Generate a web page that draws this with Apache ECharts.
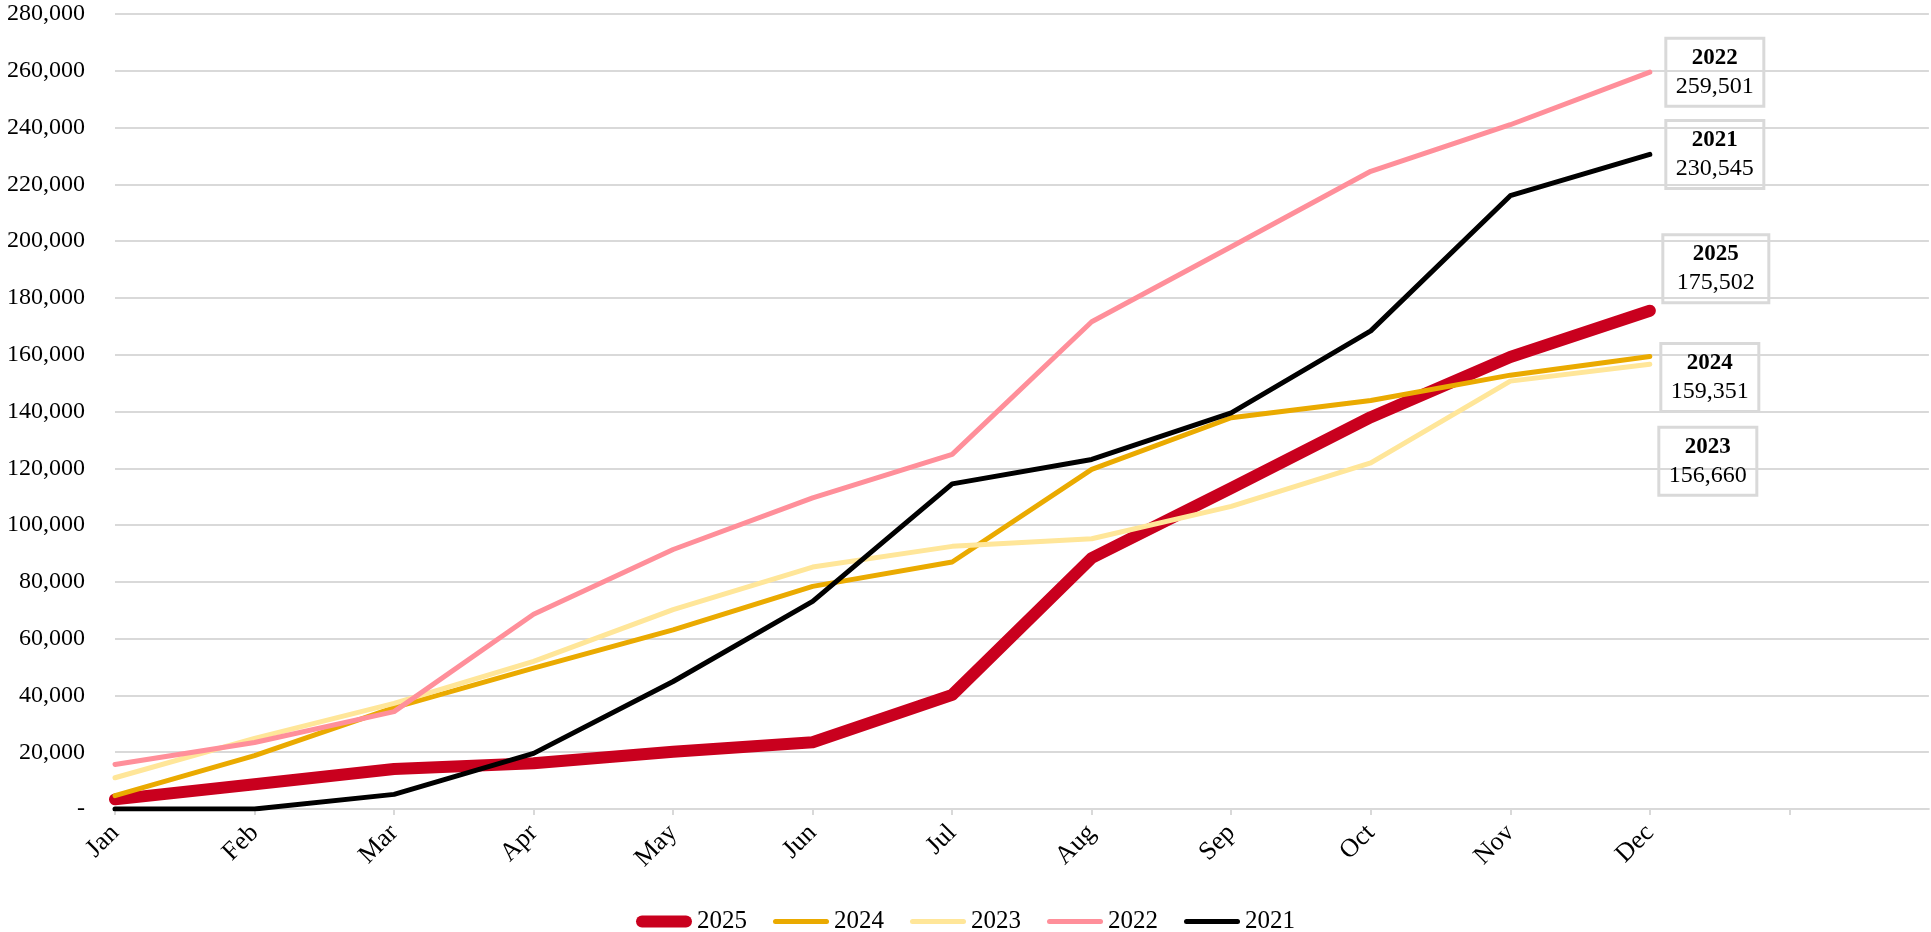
<!DOCTYPE html>
<html><head><meta charset="utf-8">
<script src="https://cdn.jsdelivr.net/npm/echarts@6/dist/echarts.min.js"></script>
<style>html,body{margin:0;padding:0;background:#fff}#c{width:1931px;height:932px}</style>
</head><body><div id="c"></div>
<script>
// ---- data ----
const months = ['Jan','Feb','Mar','Apr','May','Jun','Jul','Aug','Sep','Oct','Nov','Dec','',''];
const seriesNames = ['2025','2024','2023','2022','2021'];
const v2025 = [3400, 8700, 14100, 16100, 20200, 23500, 40200, 88400, 113000, 138000, 159200, 175502];
const v2024 = [4700, 18800, 35700, 49600, 63100, 78400, 87000, 119600, 137800, 143900, 152800, 159351];
const v2023 = [11000, 24900, 37200, 52000, 70200, 85200, 92500, 95200, 106600, 121900, 150700, 156660];
const v2022 = [15700, 23400, 34300, 68600, 91400, 109600, 124900, 171600, 198000, 224600, 241000, 259501];
const v2021 = [0, 0, 5150, 19600, 44900, 73100, 114500, 123100, 139500, 168400, 216000, 230545];
const yMin = 0, yMax = 280000, yStep = 20000;

// ---- styles ----
const FONT = '"Liberation Serif", "DejaVu Serif", serif';
const styleBy = {
  '2025': {color: '#C9001E', width: 12, dist: 13, off: [0, -42], pad: [5, 14]},
  '2024': {color: '#EAAA00', width: 5,  dist: 11, off: [0, 21],  pad: [5, 10]},
  '2023': {color: '#FFE699', width: 5,  dist: 9,  off: [0, 97],  pad: [5, 10]},
  '2022': {color: '#FF8F9A', width: 5,  dist: 16, off: [0, 0],   pad: [5, 10]},
  '2021': {color: '#000000', width: 5,  dist: 16, off: [0, 0],   pad: [5, 10]}
};
const valuesBy = {'2025': v2025, '2024': v2024, '2023': v2023, '2022': v2022, '2021': v2021};
const fmt = v => v.toLocaleString('en-US');
const ICON_W = 56;
function lineIcon(h) {
  const r = h / 2;
  return 'path://M' + r + ',0 H' + (ICON_W - r) + ' A' + r + ',' + r + ' 0 0 1 ' + (ICON_W - r) + ',' + h +
         ' H' + r + ' A' + r + ',' + r + ' 0 0 1 ' + r + ',0 Z';
}

const series = seriesNames.map(name => {
  const vals = valuesBy[name];
  const st = styleBy[name];
  const last = vals.length - 1;
  return {
    name, type: 'line', data: vals, symbol: 'none', smooth: false,
    lineStyle: {color: st.color, width: st.width, cap: 'round', join: 'round'},
    itemStyle: {color: st.color},
    emphasis: {disabled: true},
    markPoint: {
      symbol: 'circle', symbolSize: 0, silent: true,
      data: [{coord: [months[last], vals[last]]}],
      label: {
        show: true, position: 'right', distance: st.dist, offset: st.off,
        formatter: '{y|' + name + '}\n{v|' + fmt(vals[last]) + '}',
        borderColor: '#d9d9d9', borderWidth: 1.5, padding: st.pad,
        backgroundColor: 'transparent',
        rich: {
          y: {fontFamily: FONT, fontSize: 23, fontWeight: 'bold', color: '#000', lineHeight: 29, align: 'center'},
          v: {fontFamily: FONT, fontSize: 24, color: '#000', lineHeight: 29, align: 'center'}
        }
      }
    }
  };
});

const legendData = seriesNames.map(name => ({
  name, icon: lineIcon(styleBy[name].width)
}));

const chart = echarts.init(document.getElementById('c'), null, {renderer: 'canvas'});
chart.setOption({
  animation: false,
  backgroundColor: '#fff',
  grid: {left: 115, right: -3, top: 14, bottom: 123, containLabel: false},
  xAxis: {
    type: 'category', data: months, boundaryGap: false,
    axisLine: {show: true, lineStyle: {color: '#d9d9d9', width: 2}},
    axisTick: {show: true, length: 6, interval: (idx) => idx < months.length - 1,
      lineStyle: {color: '#d9d9d9', width: 2}},
    axisLabel: {rotate: 45, margin: 20, fontFamily: FONT, fontSize: 26, color: '#000', interval: 0},
    splitLine: {show: false}
  },
  yAxis: {
    type: 'value', min: yMin, max: yMax, interval: yStep,
    axisLine: {show: false}, axisTick: {show: false},
    axisLabel: {margin: 30, fontFamily: FONT, fontSize: 24, color: '#000',
      formatter: v => v === 0 ? '-' : fmt(v)},
    splitLine: {lineStyle: {color: '#d9d9d9', width: 2}}
  },
  legend: {
    data: legendData, top: 904, left: 'center',
    itemWidth: ICON_W, itemHeight: 14, itemGap: 26,
    textStyle: {fontFamily: FONT, fontSize: 25, color: '#000'}
  },
  series
});
</script>
</body></html>
